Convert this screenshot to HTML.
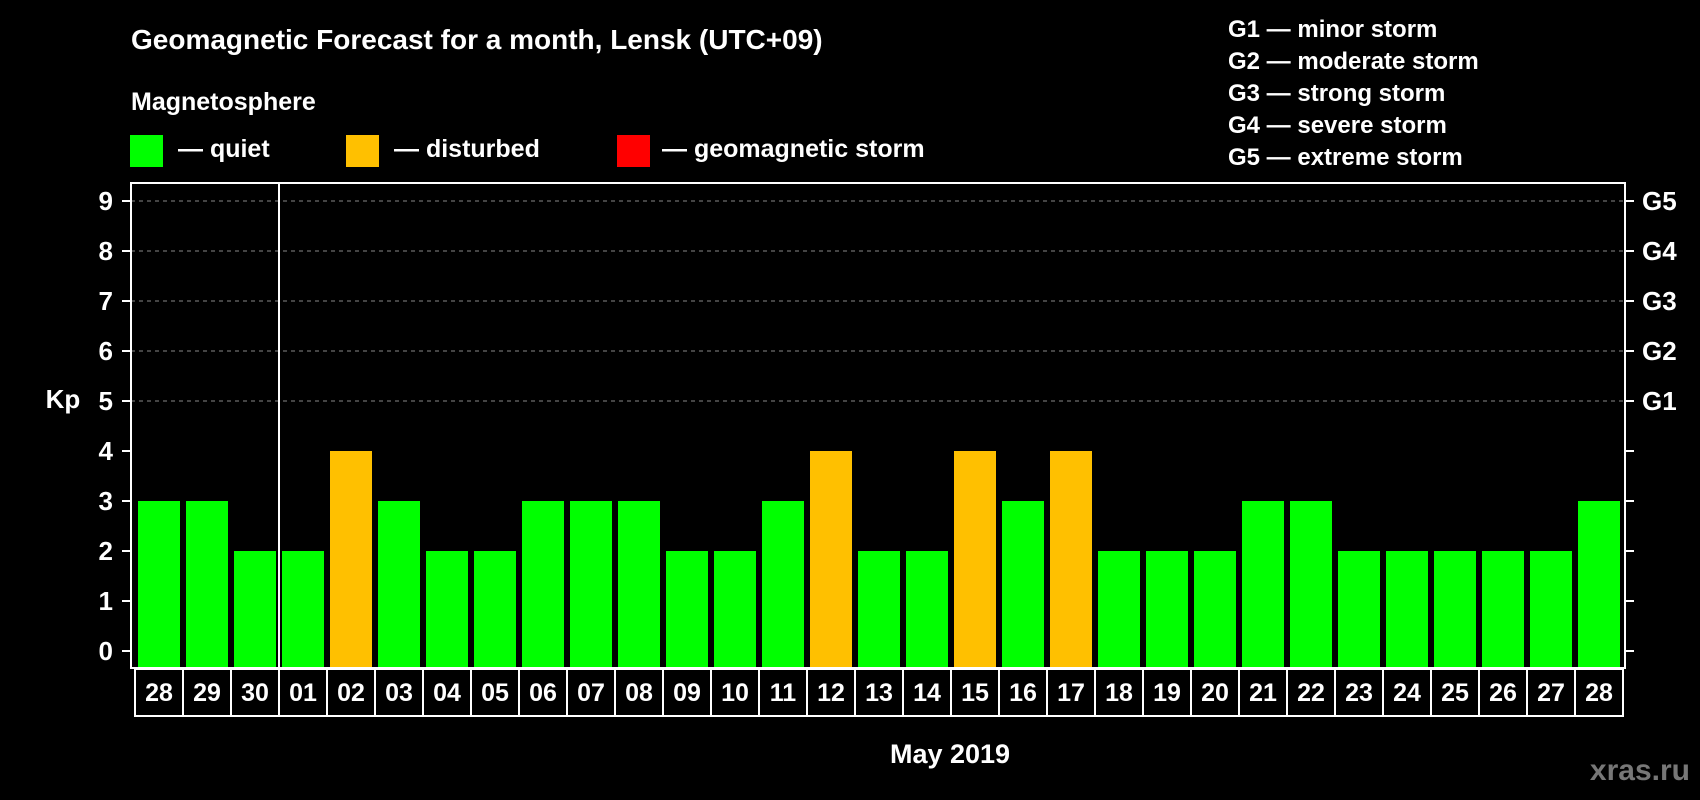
<!DOCTYPE html>
<html><head><meta charset="utf-8"><style>
html,body{margin:0;padding:0;background:#000;}
svg{display:block;font-family:"Liberation Sans",Arial,sans-serif;font-weight:bold;}
</style></head><body>
<svg width="1700" height="800" viewBox="0 0 1700 800">
<rect width="1700" height="800" fill="#000"/>
<text x="131" y="49" fill="#fff" font-size="28">Geomagnetic Forecast for a month, Lensk (UTC+09)</text>
<text x="131" y="110" fill="#fff" font-size="25">Magnetosphere</text>
<g><rect x="130" y="135" width="33" height="32" fill="#00ff00"/><text x="178" y="157" fill="#fff" font-size="25">— quiet</text></g>
<g><rect x="346" y="135" width="33" height="32" fill="#ffc000"/><text x="394" y="157" fill="#fff" font-size="25">— disturbed</text></g>
<g><rect x="617" y="135" width="33" height="32" fill="#ff0000"/><text x="662" y="157" fill="#fff" font-size="25">— geomagnetic storm</text></g>
<g fill="#fff" font-size="24">
<text x="1228" y="37">G1 — minor storm</text>
<text x="1228" y="69">G2 — moderate storm</text>
<text x="1228" y="101">G3 — strong storm</text>
<text x="1228" y="133">G4 — severe storm</text>
<text x="1228" y="165">G5 — extreme storm</text>
</g>
<text x="63" y="408" fill="#fff" font-size="26" text-anchor="middle">Kp</text>
<text x="950" y="763" fill="#fff" font-size="27" text-anchor="middle">May 2019</text>
<text x="1690" y="780" fill="#777" font-size="30" text-anchor="end">xras.ru</text>
<g id="grid"></g>
<g id="bars"></g>
<rect x="131" y="183" width="1494" height="485" fill="none" stroke="#fff" stroke-width="2"/>
<line x1="279" y1="183" x2="279" y2="668" stroke="#fff" stroke-width="2"/>
<g id="xlabels"></g>
<g id="yaxis"></g>
</svg>
<script>
const days = ["28","29","30","01","02","03","04","05","06","07","08","09","10","11","12","13","14","15","16","17","18","19","20","21","22","23","24","25","26","27","28"];
const kpValues = [3,3,2,2,4,3,2,2,3,3,3,2,2,3,4,2,2,4,3,4,2,2,2,3,3,2,2,2,2,2,3];
const yTicks = [0,1,2,3,4,5,6,7,8,9];
const gLabels = ["G1","G2","G3","G4","G5"];
const gLevels = [5,6,7,8,9];
const NS="http://www.w3.org/2000/svg";
const x0=135, slot=48, barW=42;
function xPos(i){return x0+i*slot;}
function yPos(v){return 651-50*v;}
function mk(tag,attrs,parent){const e=document.createElementNS(NS,tag);for(const k in attrs)e.setAttribute(k,attrs[k]);parent.appendChild(e);return e;}
function colorFor(v){return v>=5?"#ff0000":(v>=4?"#ffc000":"#00ff00");}
const grid=document.getElementById("grid"), bars=document.getElementById("bars"), xl=document.getElementById("xlabels"), ya=document.getElementById("yaxis");
gLevels.forEach(v=>{
  const l=mk("line",{x1:131,x2:1625,y1:yPos(v),y2:yPos(v),stroke:"#888","stroke-width":1,"stroke-dasharray":"4,4"},grid);
  
  
});
kpValues.forEach((v,i)=>{
  const r=mk("rect",{x:xPos(i)+3,y:yPos(v),width:barW,height:668-yPos(v),fill:colorFor(v)},bars);
  
  
});
days.forEach((d,i)=>{
  const r=mk("rect",{x:xPos(i),y:669,width:slot,height:47,fill:"none",stroke:"#fff","stroke-width":2},xl);
  
  
  const t=mk("text",{x:xPos(i)+slot/2,y:701,fill:"#fff","font-size":25,"text-anchor":"middle"},xl);
  t.textContent=d;
  
  
});
yTicks.forEach(v=>{
  mk("line",{x1:122,x2:131,y1:yPos(v),y2:yPos(v),stroke:"#fff","stroke-width":2},ya);
  mk("line",{x1:1625,x2:1634,y1:yPos(v),y2:yPos(v),stroke:"#fff","stroke-width":2},ya);
  const t=mk("text",{x:113,y:yPos(v)+9,fill:"#fff","font-size":26,"text-anchor":"end"},ya);
  t.textContent=v;
  
  
});
gLabels.forEach((g,i)=>{
  const t=mk("text",{x:1642,y:yPos(gLevels[i])+9,fill:"#fff","font-size":26},ya);
  t.textContent=g;
  
  
});
</script>
</body></html>
